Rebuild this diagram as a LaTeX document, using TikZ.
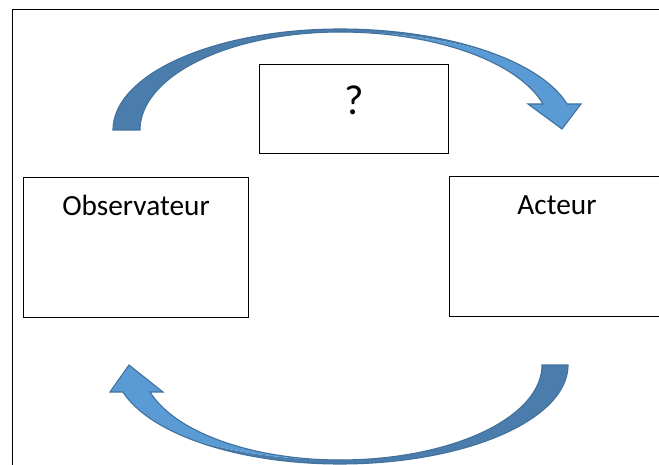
\documentclass[tikz,border=0pt]{standalone}
\usepackage{fontspec}
\setmainfont{Carlito}
\definecolor{arrdark}{HTML}{4A7DAB}
\definecolor{arrlight}{HTML}{5B9BD5}
\definecolor{arredge}{HTML}{41719C}
\begin{document}
\begin{tikzpicture}[x=1pt,y=-1pt,
  boxshape/.style={draw=black, line width=0.9pt, fill=white, inner sep=0pt, anchor=north west},
  lbl/.style={font=\fontsize{29.3}{34}\selectfont, anchor=base, inner sep=0pt},
  qlbl/.style={font=\fontsize{42}{48}\selectfont, anchor=base, inner sep=0pt},
  darkpart/.style={fill=arrdark},
  lightpart/.style={fill=arrlight},
  arroutline/.style={draw=arredge, line width=1.1pt, line join=miter},
  frameline/.style={draw=black, line width=1pt}]
\useasboundingbox (0,0) rectangle (659,465);
\clip (0,0) rectangle (659,465);
\fill[white] (0,0) rectangle (659,465);
% outer frame
\coordinate (fbl) at (12,466);
\coordinate (ftl) at (12,10);
\coordinate (ftr) at (660,10);
\draw[frameline] (fbl) -- (ftl) -- (ftr);
% boxes
\node[boxshape, minimum width=225pt, minimum height=140pt] (obs) at (23,177) {};
\node[boxshape, minimum width=216pt, minimum height=140pt] (act) at (449,176) {};
\node[boxshape, minimum width=189pt, minimum height=89pt] (q) at (259,64) {};
\node[lbl] (obstxt) at (136,216) {Observateur};
\node[lbl] (acttxt) at (557,215) {Acteur};
\node[qlbl] (qtxt) at (354,115) {?};
% ---------- top curved arrow ----------
% E_o: a=227 b=101 ; R_o: a=235 b=101 ; M: a=244.5 b=98 ; E_i: a=200 b=98 ; I2: a=210.6 b=98
\fill[darkpart]
     plot[domain=180:90,samples=80] ({340+227*cos(\x)},{130-101*sin(\x)})
  -- plot[domain=90:47.9,samples=60] ({340+235*cos(\x)},{130-101*sin(\x)})
  -- plot[domain=49.9:90,samples=60] ({340+244.5*cos(\x)},{130-98*sin(\x)})
  -- plot[domain=90:180,samples=80] ({340+200*cos(\x)},{130-98*sin(\x)}) -- cycle;
\fill[lightpart] (562,129) -- (581,104)
  -- plot[domain=14.92:47.9,samples=60] ({340+235*cos(\x)},{130-101*sin(\x)})
  -- plot[domain=49.9:90,samples=60] ({340+244.5*cos(\x)},{130-98*sin(\x)})
  -- plot[domain=90:15.39,samples=80] ({340+210.6*cos(\x)},{130-98*sin(\x)})
  -- (528,104) -- cycle;
\draw[arroutline] (562,129) -- (581,104)
  -- plot[domain=14.92:90,samples=80] ({340+235*cos(\x)},{130-101*sin(\x)})
  -- plot[domain=90:180,samples=80] ({340+227*cos(\x)},{130-101*sin(\x)})
  -- plot[domain=180:90,samples=80] ({340+200*cos(\x)},{130-98*sin(\x)})
  -- plot[domain=90:15.39,samples=80] ({340+210.6*cos(\x)},{130-98*sin(\x)})
  -- (528,104) -- cycle;
% ---------- bottom curved arrow ----------
% E_o: a=228 b=99 ; E_i: a=202 b=95 ; R_o: a=225.6 b=99 ; M: a=238.5 b=95 ; I2: a=198.1 b=95
\fill[darkpart]
     plot[domain=0:90,samples=80] ({340+228*cos(\x)},{365+99*sin(\x)})
  -- plot[domain=90:132.1,samples=60] ({340+225.6*cos(\x)},{365+99*sin(\x)})
  -- plot[domain=129.4:90,samples=60] ({340+238.5*cos(\x)},{365+95*sin(\x)})
  -- plot[domain=90:0,samples=80] ({340+202*cos(\x)},{365+95*sin(\x)}) -- cycle;
\fill[lightpart] (129,365) -- (163,392)
  -- plot[domain=163.49:90,samples=80] ({340+198.1*cos(\x)},{365+95*sin(\x)})
  -- plot[domain=90:129.4,samples=60] ({340+238.5*cos(\x)},{365+95*sin(\x)})
  -- plot[domain=132.1:164.17,samples=60] ({340+225.6*cos(\x)},{365+99*sin(\x)})
  -- (110,392) -- cycle;
\draw[arroutline] (129,365) -- (163,392)
  -- plot[domain=163.49:90,samples=80] ({340+198.1*cos(\x)},{365+95*sin(\x)})
  -- plot[domain=90:0,samples=80] ({340+202*cos(\x)},{365+95*sin(\x)})
  -- plot[domain=0:90,samples=80] ({340+228*cos(\x)},{365+99*sin(\x)})
  -- plot[domain=90:164.17,samples=80] ({340+225.6*cos(\x)},{365+99*sin(\x)})
  -- (110,392) -- cycle;
\end{tikzpicture}
\end{document}
